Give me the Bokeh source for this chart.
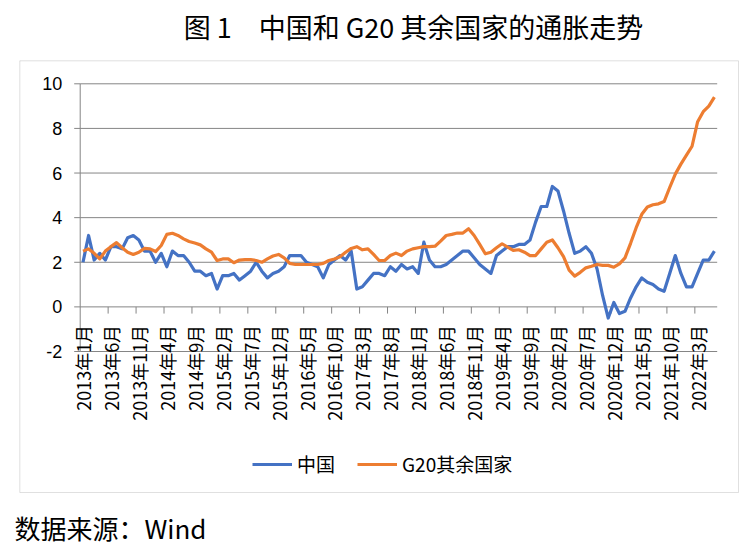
import math
from bokeh.plotting import figure
from bokeh.models import (ColumnDataSource, Range1d, Label, Legend, LegendItem,
                          BoxAnnotation)
from bokeh.core.properties import value
from bokeh.embed import file_html
from bokeh.resources import INLINE

# ---------------- data ----------------
months = [f"{y}年{m}月" for y in range(2013, 2023) for m in range(1, 13)][:114]

china = [
    2.0, 3.2, 2.1, 2.4, 2.1, 2.7, 2.7, 2.6, 3.1, 3.2, 3.0, 2.5,
    2.5, 2.0, 2.4, 1.8, 2.5, 2.3, 2.3, 2.0, 1.6, 1.6, 1.4, 1.5,
    0.8, 1.4, 1.4, 1.5, 1.2, 1.4, 1.6, 2.0, 1.6, 1.3, 1.5, 1.6,
    1.8, 2.3, 2.3, 2.3, 2.0, 1.9, 1.8, 1.3, 1.9, 2.1, 2.3, 2.1,
    2.5, 0.8, 0.9, 1.2, 1.5, 1.5, 1.4, 1.8, 1.6, 1.9, 1.7, 1.8,
    1.5, 2.9, 2.1, 1.8, 1.8, 1.9, 2.1, 2.3, 2.5, 2.5, 2.2, 1.9,
    1.7, 1.5, 2.3, 2.5, 2.7, 2.7, 2.8, 2.8, 3.0, 3.8, 4.5, 4.5,
    5.4, 5.2, 4.3, 3.3, 2.4, 2.5, 2.7, 2.4, 1.7, 0.5, -0.5, 0.2,
    -0.3, -0.2, 0.4, 0.9, 1.3, 1.1, 1.0, 0.8, 0.7, 1.5, 2.3, 1.5,
    0.9, 0.9, 1.5, 2.1, 2.1, 2.5,
]

g20_rest = [
    2.5, 2.6, 2.4, 2.15, 2.5, 2.7, 2.88, 2.65, 2.45, 2.35, 2.45, 2.62,
    2.6, 2.48, 2.75, 3.25, 3.3, 3.2, 3.05, 2.93, 2.86, 2.78, 2.6, 2.45,
    2.08, 2.15, 2.15, 1.98, 2.1, 2.12, 2.12, 2.08, 2.0, 2.15, 2.28, 2.35,
    2.2, 1.95, 1.9, 1.9, 1.9, 1.9, 1.9, 1.95, 2.08, 2.15, 2.25, 2.45,
    2.62, 2.7, 2.56, 2.6, 2.35, 2.08, 2.08, 2.3, 2.41, 2.3, 2.5, 2.6,
    2.65, 2.7, 2.7, 2.72, 2.95, 3.2, 3.25, 3.31, 3.31, 3.5, 3.2, 2.8,
    2.38, 2.45, 2.65, 2.83, 2.68, 2.53, 2.56, 2.45, 2.3, 2.3, 2.6, 2.9,
    3.0, 2.65, 2.25, 1.65, 1.38, 1.55, 1.75, 1.82, 1.9, 1.86, 1.86, 1.78,
    1.93, 2.2, 2.85, 3.55, 4.15, 4.48, 4.58, 4.62, 4.72, 5.35, 5.95, 6.4,
    6.8, 7.2, 8.3, 8.75, 9.0, 9.4,
]

tick_labels = [
    "2013年1月", "2013年6月", "2013年11月", "2014年4月", "2014年9月",
    "2015年2月", "2015年7月", "2015年12月", "2016年5月", "2016年10月",
    "2017年3月", "2017年8月", "2018年1月", "2018年6月", "2018年11月",
    "2019年4月", "2019年9月", "2020年2月", "2020年7月", "2020年12月",
    "2021年5月", "2021年10月", "2022年3月",
]
y_ticks = [-2, 0, 2, 4, 6, 8, 10]

title_text = "图 1\u3000中国和 G20 其余国家的通胀走势"
source_text = "数据来源：Wind"
series_names = ["中国", "G20其余国家"]

# ---------------- layout / styles ----------------
BLUE = "#4472C4"
ORANGE = "#ED7D31"
GRID = "#858585"
CJK = "Noto Sans CJK SC"

W, H = 753, 549
# plot-area box in canvas pixels
PA_L, PA_R, PA_T, PA_B = 79.7, 716.7, 83.3, 351.0
n = len(months)
y_lo, y_hi = y_ticks[0], y_ticks[-1]
ppx = (PA_R - PA_L) / n
ppy = (PA_B - PA_T) / (y_hi - y_lo)
x_range = Range1d(0 - PA_L / ppx, n + (W - PA_R) / ppx)
y_range = Range1d(y_lo - (H - PA_B) / ppy, y_hi + PA_T / ppy)

p = figure(width=W, height=H, output_backend="svg", toolbar_location=None,
           x_range=x_range, y_range=y_range,
           x_axis_location=None, y_axis_location=None, title=None,
           min_border_left=0, min_border_right=0,
           min_border_top=0, min_border_bottom=0)
p.outline_line_color = None
p.background_fill_color = "white"
p.border_fill_color = "white"
p.xgrid.visible = False
p.ygrid.visible = False

# horizontal gridlines
p.segment(x0=[0] * len(y_ticks), x1=[n] * len(y_ticks), y0=y_ticks, y1=y_ticks,
          line_color=GRID, line_width=1)
# vertical value axis with outward ticks
p.segment(x0=[0], x1=[0], y0=[y_lo], y1=[y_hi], line_color=GRID, line_width=1)
p.segment(x0=[-6 / ppx] * len(y_ticks), x1=[0] * len(y_ticks), y0=y_ticks, y1=y_ticks,
          line_color=GRID, line_width=1)
p.text(x=[-(6 + 12) / ppx] * len(y_ticks), y=y_ticks, text=[str(t) for t in y_ticks],
       text_align="right", text_baseline="middle",
       text_font=value("Liberation Sans"), text_font_size="18px", text_color="#000000")

# category axis at y = 0 : tick marks between categories
tick_pos = list(range(5, n, 5))
p.segment(x0=tick_pos, y0=[0] * len(tick_pos), x1=tick_pos,
          y1=[-6.7 / ppy] * len(tick_pos), line_color=GRID, line_width=1)
label_idx = [months.index(t) for t in tick_labels]
p.text(x=[i + 0.5 for i in label_idx], y=[-18 / ppy] * len(label_idx), text=tick_labels,
       angle=math.pi / 2, text_align="right", text_baseline="middle",
       text_font=value(CJK), text_font_size="18px", text_color="#000000")

# series
src = ColumnDataSource(dict(x=[i + 0.5 for i in range(n)], china=china, g20=g20_rest))
r1 = p.line("x", "china", source=src, line_color=BLUE, line_width=3.2, line_join="round")
r2 = p.line("x", "g20", source=src, line_color=ORANGE, line_width=3.2, line_join="round")

legend = Legend(items=[LegendItem(label=series_names[0], renderers=[r1]),
                       LegendItem(label=series_names[1], renderers=[r2])],
                location=(252, 72), orientation="horizontal",
                padding=0, margin=0, spacing=22, label_standoff=5,
                glyph_width=40, glyph_height=20, label_height=20, label_width=10,
                label_text_font=CJK, label_text_font_size="19px",
                label_text_color="#000000",
                background_fill_alpha=0, border_line_alpha=0)
p.add_layout(legend)

# chart border, title and source note
p.add_layout(BoxAnnotation(left=19.3, right=738, top=60.3, bottom=492,
                           left_units="canvas", right_units="canvas",
                           top_units="canvas", bottom_units="canvas",
                           fill_color=None, fill_alpha=0,
                           line_color="#999999", line_width=1))
p.add_layout(Label(x=413, y=26, x_units="canvas", y_units="canvas", text=title_text,
                   text_align="center", text_baseline="middle",
                   text_font=CJK, text_font_size="27px", text_color="#000000"))
p.add_layout(Label(x=14, y=527, x_units="canvas", y_units="canvas", text=source_text,
                   text_align="left", text_baseline="middle",
                   text_font=CJK, text_font_size="26px", text_color="#000000"))

open("out.html", "w").write(file_html(p, INLINE))
